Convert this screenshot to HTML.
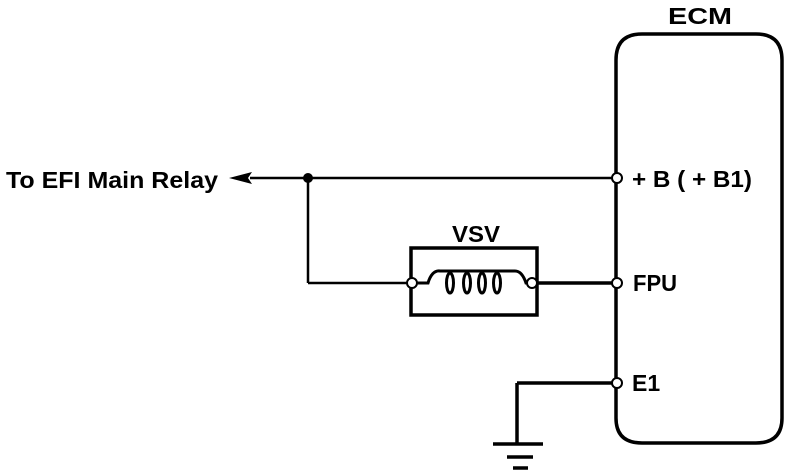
<!DOCTYPE html>
<html><head><style>html,body{margin:0;padding:0;background:#fff}svg{display:block}</style></head>
<body>
<svg width="800" height="474" viewBox="0 0 800 474" xmlns="http://www.w3.org/2000/svg" font-family="Liberation Sans, sans-serif" font-weight="bold" fill="#000">
<g fill="none" stroke="#000" stroke-width="3.5">
<path d="M616 60 Q616 34 642 34 L756 34 Q782 34 782 60 L782 418 Q782 443 756 443 L642 443 Q616 443 616 418 Z"/>
<line x1="250" y1="178" x2="612" y2="178" stroke-width="2.5"/>
<line x1="308" y1="178" x2="308" y2="283" stroke-width="2.5"/>
<line x1="308" y1="283" x2="407" y2="283" stroke-width="2.5"/>
<line x1="537" y1="283" x2="612" y2="283"/>
<rect x="411" y="248" width="126" height="67"/>
<line x1="612" y1="383" x2="517" y2="383"/>
<line x1="517" y1="383" x2="517" y2="444"/>
<line x1="493" y1="444" x2="543" y2="444"/>
<line x1="507" y1="457" x2="533" y2="457"/>
<line x1="513" y1="468" x2="528" y2="468"/>
<path d="M417 283 L428 283 Q432 270 440 271 L515 271 Q522 271 526 283 L527 283" stroke-width="3"/>
<ellipse cx="450" cy="283" rx="3.5" ry="10" stroke-width="3"/>
<ellipse cx="467" cy="283" rx="3.5" ry="10" stroke-width="3"/>
<ellipse cx="482" cy="283" rx="3.5" ry="10" stroke-width="3"/>
<ellipse cx="497" cy="283" rx="3.5" ry="10" stroke-width="3"/>
</g>
<g fill="#fff" stroke="#000" stroke-width="2">
<circle cx="617" cy="178" r="5"/>
<circle cx="617" cy="283" r="5"/>
<circle cx="617" cy="383" r="5"/>
<circle cx="412" cy="283" r="5"/>
<circle cx="532" cy="283" r="5"/>
</g>
<circle cx="308" cy="178" r="5"/>
<path d="M229 178 L252 172 L248 178 L252 184 Z"/>
<g font-size="23">
<text x="668" y="24" textLength="64" lengthAdjust="spacingAndGlyphs">ECM</text>
<text x="632" y="187" textLength="120" lengthAdjust="spacingAndGlyphs">+ B ( + B1)</text>
<text x="633" y="291" textLength="44" lengthAdjust="spacingAndGlyphs">FPU</text>
<text x="632" y="391">E1</text>
<text x="452" y="242" textLength="48" lengthAdjust="spacingAndGlyphs">VSV</text>
<text x="6" y="188" textLength="212" lengthAdjust="spacingAndGlyphs">To EFI Main Relay</text>
</g>
</svg>
</body></html>
